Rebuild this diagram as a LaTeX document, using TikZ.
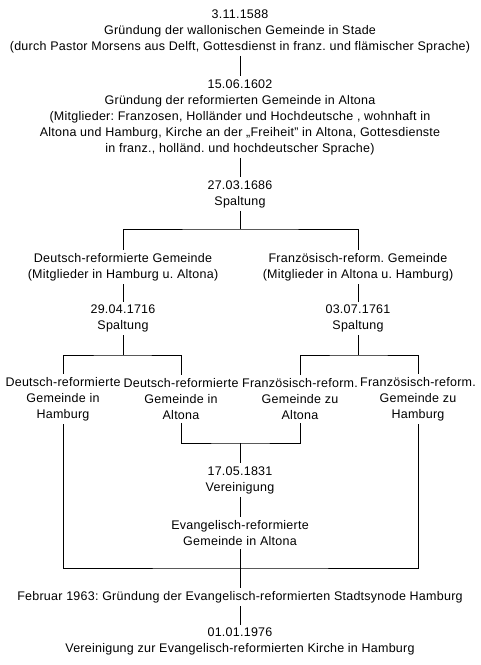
\documentclass[tikz,border=0pt]{standalone}
\usepackage{fontspec}
\setmainfont[LetterSpace=2]{Liberation Sans}
\usetikzlibrary{positioning}

\begin{document}
\frenchspacing
\begin{tikzpicture}[x=1pt,y=-1pt,
		entry/.style={align=center,inner sep=3pt,font=\fontsize{12.5}{16}\selectfont},
		link/.style={draw,line width=1pt}]
		\useasboundingbox (0,0) rectangle (480,665);
		
		\node[entry] (gr1588) at (240,31){3.11.1588\\Gründung der wallonischen Gemeinde in Stade\\(durch Pastor Morsens aus Delft, Gottesdienst in franz. und flämischer Sprache)};
		\node[entry] (gr1602) at (240,117){15.06.1602\\Gründung der reformierten Gemeinde in Altona\\(Mitglieder: Franzosen, Holländer und Hochdeutsche , wohnhaft in\\Altona und Hamburg, Kirche an der „Freiheit" in Altona, Gottesdienste\\in franz., holländ. und hochdeutscher Sprache)};
		\node[entry] (sp1686) at (240,194){27.03.1686\\Spaltung};
		\node[entry] (dref) at (123,267){Deutsch-reformierte Gemeinde\\(Mitglieder in Hamburg u. Altona)};
		\node[entry] (fref) at (358,267){Französisch-reform. Gemeinde\\(Mitglieder in Altona u. Hamburg)};
		\node[entry] (sp1716) at (123,318.5){29.04.1716\\Spaltung};
		\node[entry] (sp1761) at (358,318.5){03.07.1761\\Spaltung};
		\node[entry] (drhh) at (63,399){Deutsch-reformierte\\Gemeinde in\\Hamburg};
		\node[entry] (dral) at (181,399){Deutsch-reformierte\\Gemeinde in\\Altona};
		\node[entry] (fral) at (300,399){Französisch-reform.\\Gemeinde zu\\Altona};
		\node[entry] (frhh) at (418,399){Französisch-reform.\\Gemeinde zu\\Hamburg};
		\node[entry] (ve1831) at (240,480){17.05.1831\\Vereinigung};
		\node[entry] (eral) at (240,533){Evangelisch-reformierte\\Gemeinde in Altona};
		\node[entry] (sy1963) at (240,597){Februar 1963: Gründung der Evangelisch-reformierten Stadtsynode Hamburg};
		\node[entry] (ki1976) at (240,641.5){01.01.1976\\Vereinigung zur Evangelisch-reformierten Kirche in Hamburg};
		
		\coordinate (br1686) at (240,229);
		\coordinate (br1716) at (123,355);
		\coordinate (br1761) at (358,355);
		\coordinate (jn1831) at (240,443);
		\coordinate (jn1963) at (240,568);
		
		\draw[link] (gr1588) -- (gr1602);
		\draw[link] (gr1602) -- (sp1686);
		\draw[link] (sp1686) -- (br1686);
		\draw[link] (dref) |- (br1686) -| (fref);
		\draw[link] (dref) -- (sp1716);
		\draw[link] (fref) -- (sp1761);
		\draw[link] (sp1716) -- (br1716);
		\draw[link] (sp1761) -- (br1761);
		\draw[link] (drhh) |- (br1716) -| (dral);
		\draw[link] (fral) |- (br1761) -| (frhh);
		\draw[link] (dral) |- (jn1831) -| (fral);
		\draw[link] (jn1831) -- (ve1831);
		\draw[link] (ve1831) -- (eral);
		\draw[link] (drhh) |- (jn1963) -| (frhh);
		\draw[link] (eral) -- (sy1963);
		\draw[link] (sy1963) -- (ki1976);
		
\end{tikzpicture}
\end{document}
